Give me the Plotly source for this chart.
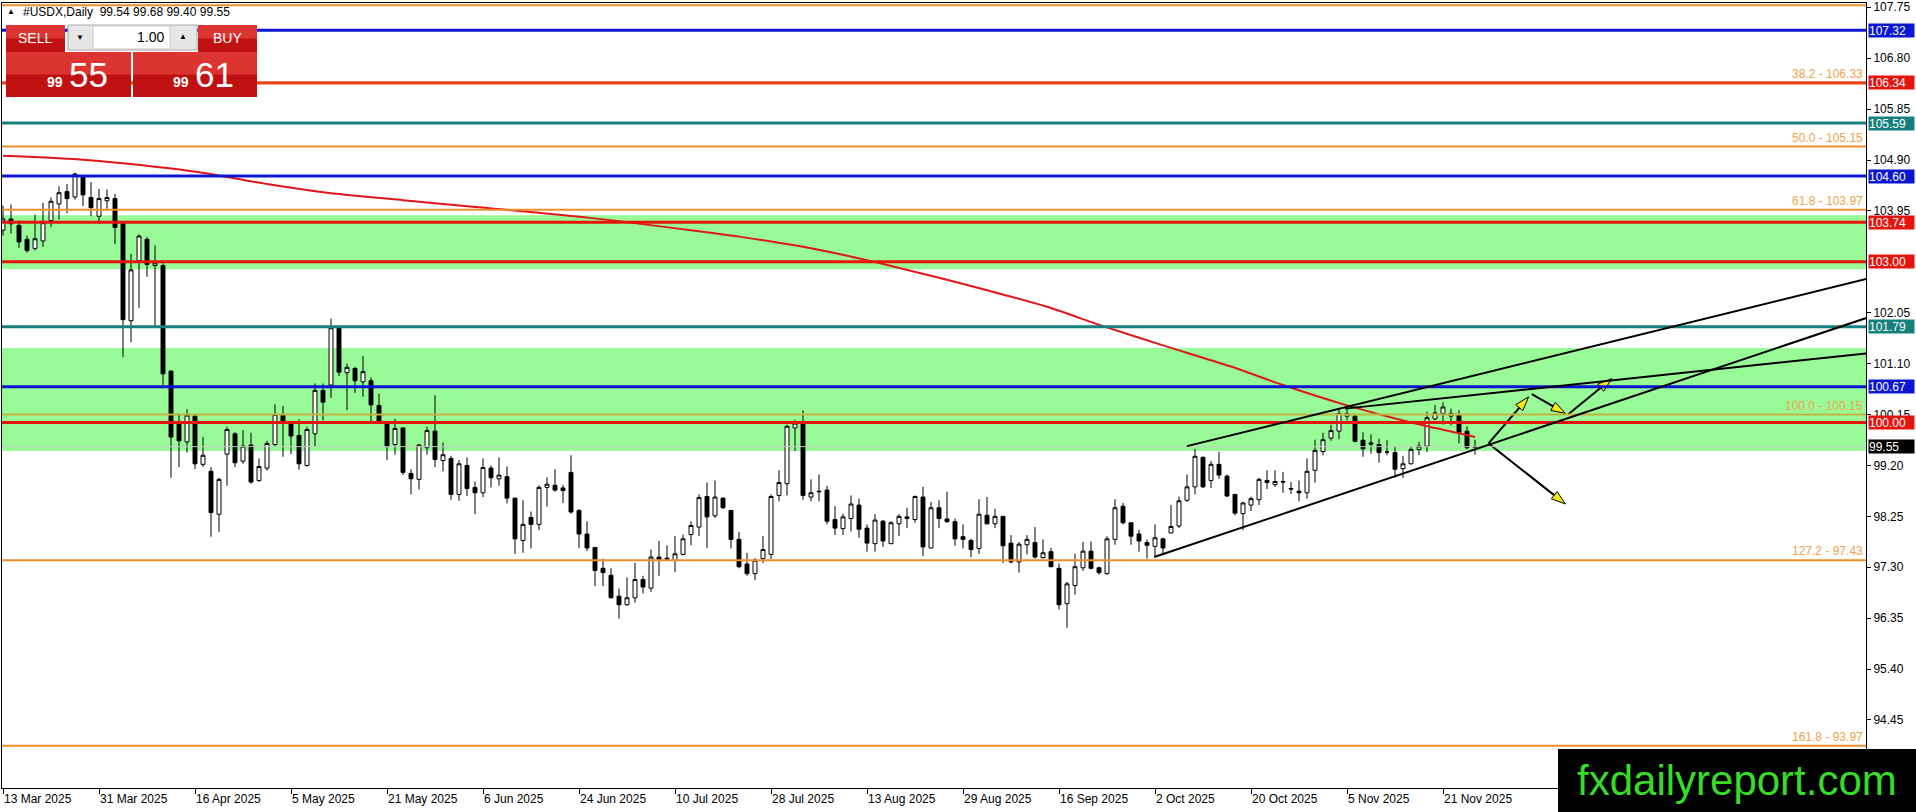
import plotly.graph_objects as go

# ---- values ----
tick_labels = ["13 Mar 2025", "31 Mar 2025", "16 Apr 2025", "5 May 2025", "21 May 2025",
               "6 Jun 2025", "24 Jun 2025", "10 Jul 2025", "28 Jul 2025", "13 Aug 2025",
               "29 Aug 2025", "16 Sep 2025", "2 Oct 2025", "20 Oct 2025", "5 Nov 2025",
               "21 Nov 2025"]
bars_per_label = 12

bar_open = [
    103.59, 103.80, 103.68, 103.42, 103.25, 103.39, 103.77, 104.08, 104.31, 104.21,
    104.58, 104.20, 103.85, 104.14, 104.18, 103.71, 101.90, 103.02, 103.42, 102.93,
    102.93, 100.96, 99.99, 99.64, 100.12, 99.22, 99.09, 98.29, 99.41, 99.79,
    99.28, 99.58, 98.92, 99.15, 99.59, 100.14, 99.98, 99.76, 99.20, 99.79,
    100.60, 100.70, 101.77, 100.93, 101.01, 100.76, 100.78, 100.32, 99.98, 99.59,
    99.90, 99.05, 98.94, 99.53, 99.84, 99.29, 99.33, 98.66, 99.20, 98.79,
    98.69, 99.15, 98.95, 98.99, 98.59, 97.80, 98.23, 98.10, 98.79, 98.83,
    98.78, 99.07, 98.36, 97.92, 97.67, 97.28, 97.15, 96.76, 96.60, 96.73,
    97.07, 96.91, 97.49, 97.47, 97.43, 97.54, 97.91, 98.05, 98.62, 98.26,
    98.59, 98.36, 97.82, 97.36, 97.18, 97.46, 97.54, 98.64, 98.86, 99.90,
    99.98, 98.61, 98.72, 98.74, 98.19, 98.02, 98.21, 98.46, 98.03, 97.74,
    98.16, 97.74, 98.11, 98.24, 98.19, 98.61, 97.66, 98.41, 98.20, 98.15,
    97.87, 97.80, 97.65, 98.27, 98.11, 98.25, 97.75, 97.40, 97.72, 97.76,
    97.48, 97.59, 97.28, 96.62, 96.96, 97.29, 97.60, 97.29, 97.18, 97.82,
    98.44, 98.13, 97.92, 97.76, 97.69, 97.83, 97.94, 98.07, 98.55, 98.80,
    99.35, 98.92, 99.22, 99.00, 98.66, 98.30, 98.46, 98.56, 98.92, 98.84,
    98.90, 98.77, 98.72, 98.69, 99.11, 99.46, 99.71, 99.84, 100.12, 100.12,
    99.67, 99.62, 99.59, 99.45, 99.44, 99.14, 99.23, 99.50, 99.56, 100.07,
    100.17, 100.12, 100.14, 99.84, 99.54,
]
bar_high = [
    104.05, 104.07, 103.77, 103.49, 103.88, 104.10, 104.20, 104.41, 104.45, 104.66,
    104.61, 104.49, 104.36, 104.35, 104.27, 103.74, 103.15, 103.51, 103.46, 103.31,
    102.97, 100.98, 100.14, 100.25, 100.15, 99.73, 99.17, 98.97, 99.92, 99.82,
    99.86, 99.81, 99.33, 99.66, 100.34, 100.31, 99.98, 100.06, 99.92, 100.73,
    100.73, 101.94, 101.77, 101.10, 101.04, 101.24, 100.84, 100.54, 100.01, 100.07,
    99.91, 99.13, 99.60, 99.92, 100.51, 99.63, 99.38, 99.30, 99.35, 98.90,
    99.33, 99.20, 99.35, 99.18, 98.59, 98.55, 98.34, 98.83, 98.98, 99.13,
    98.84, 99.39, 98.38, 98.16, 97.67, 97.46, 97.28, 96.90, 97.11, 97.38,
    97.14, 97.63, 97.79, 97.71, 97.88, 97.91, 98.16, 98.66, 98.88, 98.92,
    98.60, 98.37, 97.96, 97.57, 97.47, 97.88, 98.66, 99.11, 99.96, 100.05,
    100.23, 98.94, 99.03, 98.82, 98.44, 98.30, 98.64, 98.58, 98.10, 98.29,
    98.18, 98.16, 98.29, 98.41, 98.64, 98.80, 98.52, 98.55, 98.71, 98.21,
    98.10, 97.83, 98.57, 98.61, 98.39, 98.25, 97.90, 97.77, 97.90, 98.05,
    97.82, 97.66, 97.37, 97.03, 97.55, 97.77, 97.78, 97.31, 97.88, 98.57,
    98.50, 98.13, 98.00, 97.82, 98.10, 97.85, 98.46, 98.62, 99.03, 99.51,
    99.37, 99.28, 99.45, 99.03, 98.66, 98.52, 98.62, 98.97, 99.11, 99.11,
    99.08, 98.89, 98.92, 99.33, 99.68, 99.81, 99.96, 100.26, 100.32, 100.15,
    99.82, 99.78, 99.70, 99.67, 99.56, 99.38, 99.56, 99.64, 100.20, 100.33,
    100.38, 100.26, 100.23, 99.93, 99.68,
]
bar_low = [
    103.49, 103.53, 103.26, 103.17, 103.21, 103.28, 103.65, 103.79, 103.91, 104.16,
    104.04, 103.85, 103.71, 103.99, 103.33, 101.22, 101.50, 102.14, 102.72, 101.81,
    100.70, 98.97, 99.17, 99.44, 99.13, 99.17, 97.87, 97.96, 98.82, 99.17,
    99.23, 98.86, 98.89, 99.10, 99.56, 99.36, 99.41, 99.12, 99.18, 99.56,
    100.04, 100.46, 100.87, 100.23, 100.55, 100.48, 100.02, 100.01, 99.30, 99.40,
    99.02, 98.66, 98.75, 99.40, 99.17, 99.09, 98.56, 98.54, 98.63, 98.29,
    98.61, 98.79, 98.82, 98.49, 97.55, 97.57, 97.65, 97.99, 98.43, 98.71,
    98.50, 98.30, 97.66, 97.60, 96.95, 96.95, 96.72, 96.34, 96.58, 96.64,
    96.81, 96.84, 97.14, 97.43, 97.21, 97.52, 97.71, 97.88, 97.66, 98.22,
    98.39, 97.65, 97.28, 97.14, 97.06, 97.38, 97.45, 98.53, 98.64, 99.47,
    98.56, 98.53, 98.53, 98.10, 97.90, 97.90, 97.97, 97.85, 97.59, 97.59,
    97.68, 97.73, 97.88, 98.03, 98.13, 97.51, 97.65, 98.03, 98.13, 97.70,
    97.65, 97.49, 97.55, 98.10, 98.03, 97.38, 97.37, 97.20, 97.54, 97.46,
    97.46, 97.30, 96.51, 96.17, 96.79, 97.23, 97.26, 97.16, 97.16, 97.72,
    98.10, 97.72, 97.59, 97.46, 97.49, 97.55, 97.93, 98.03, 98.52, 98.66,
    98.78, 98.78, 98.95, 98.61, 98.27, 97.99, 98.35, 98.46, 98.76, 98.80,
    98.69, 98.67, 98.53, 98.58, 98.88, 99.39, 99.66, 99.69, 100.04, 99.63,
    99.36, 99.42, 99.25, 99.39, 98.97, 98.97, 99.22, 99.39, 99.45, 100.04,
    99.96, 99.95, 99.61, 99.50, 99.40,
]
bar_close = [
    103.80, 103.71, 103.37, 103.21, 103.43, 103.73, 104.13, 104.29, 104.18, 104.64,
    104.25, 104.01, 104.18, 104.20, 103.64, 101.92, 102.85, 103.48, 102.95, 102.98,
    100.91, 99.73, 99.66, 100.14, 99.23, 99.39, 98.32, 98.94, 99.87, 99.25,
    99.56, 98.89, 99.18, 99.61, 100.15, 100.01, 99.75, 99.23, 99.87, 100.60,
    100.38, 101.77, 100.94, 101.03, 100.78, 100.95, 100.33, 100.02, 99.56, 99.89,
    99.07, 98.95, 99.58, 99.85, 99.31, 99.40, 98.66, 99.23, 98.77, 98.69,
    99.16, 98.97, 99.02, 98.59, 97.83, 98.10, 98.10, 98.79, 98.85, 98.74,
    98.73, 98.33, 97.92, 97.66, 97.24, 97.20, 96.73, 96.60, 96.73, 97.07,
    96.93, 97.49, 97.44, 97.45, 97.55, 97.83, 98.08, 98.60, 98.24, 98.61,
    98.41, 97.82, 97.31, 97.18, 97.43, 97.63, 98.62, 98.88, 99.93, 99.99,
    98.64, 98.69, 98.71, 98.16, 98.03, 98.24, 98.48, 98.01, 97.75, 98.18,
    97.79, 98.13, 98.25, 98.21, 98.62, 97.68, 98.41, 98.21, 98.15, 97.83,
    97.82, 97.63, 98.29, 98.11, 98.25, 97.70, 97.40, 97.73, 97.82, 97.49,
    97.57, 97.31, 96.60, 96.99, 97.31, 97.60, 97.28, 97.20, 97.83, 98.41,
    98.13, 97.88, 97.79, 97.71, 97.85, 97.66, 98.06, 98.54, 98.80, 99.37,
    98.80, 99.22, 99.02, 98.63, 98.31, 98.50, 98.58, 98.94, 98.88, 98.90,
    98.89, 98.76, 98.69, 99.09, 99.48, 99.68, 99.85, 100.17, 100.17, 99.65,
    99.51, 99.60, 99.44, 99.45, 99.13, 99.23, 99.50, 99.56, 100.09, 100.18,
    100.29, 100.17, 99.82, 99.53, 99.55,
]

# moving average read at a few bars
ma_bar = [0, 9.6, 20.5, 25.5, 33, 40, 50, 59.4, 73.4, 86, 92, 100, 108, 116.5,
          123, 130.5, 137.5, 145, 153.4, 160, 168, 176, 182, 184]
ma_value = [104.98, 104.91, 104.75, 104.65, 104.45, 104.30, 104.15, 104.02, 103.82,
            103.59, 103.47, 103.28, 103.03, 102.72, 102.47, 102.16, 101.80, 101.44,
            101.05, 100.70, 100.32, 100.00, 99.80, 99.73]

level_price = [107.32, 106.34, 105.59, 104.60, 103.74, 103.00, 101.79, 100.67, 100.00]
level_kind = ["blue", "red", "teal", "blue", "red", "red", "teal", "blue", "red"]

fib_pct = ["23.6", "38.2", "50.0", "61.8", "100.0", "127.2", "161.8"]
fib_price = [107.79, 106.33, 105.15, 103.97, 100.15, 97.43, 93.97]

zone_top = [103.87, 101.39]
zone_bottom = [102.86, 99.47]

trend_bar0 = [143.9, 148.0, 167.75]
trend_price0 = [97.49, 99.56, 100.26]
trend_bar1 = [232.9, 232.9, 232.9]
trend_price1 = [101.95, 102.68, 101.29]

arrow_bar0 = [185.7, 191.1, 195.7, 185.7]
arrow_price0 = [99.61, 100.53, 100.16, 99.61]
arrow_bar1 = [190.7, 195.3, 201.1, 195.3]
arrow_price1 = [100.48, 100.17, 100.82, 98.48]

# 103.00 sits fully under its own level box, so it is left out
ytick_vals = [107.75, 106.80, 105.85, 104.90, 103.95, 102.05, 101.10,
              100.15, 99.20, 98.25, 97.30, 96.35, 95.40, 94.45]

symbol = "#USDX,Daily"
last_ohlc = [99.54, 99.68, 99.40, 99.55]
bid, ask = 99.55, 99.61
lot = "1.00"

# ---- styling ----
FONT = "Liberation Sans, Arial, sans-serif"
COLORS = {"blue": "#0a16d2", "red": "#e5140f", "teal": "#15807e"}
FIB_LINE = "#ef8f2c"
FIB_TEXT = "#f0a24e"
ZONE = "#98fb98"

W, H = 1916, 812
ML, MR, MT, MB = 2, 50, 3, 24


def px(x):
    return (x - ML) / (W - ML - MR)


def py(y):
    return (H - MB - y) / (H - MT - MB)


bars = list(range(len(bar_open)))

fig = go.Figure()
fig.add_trace(go.Candlestick(
    x=bars, open=bar_open, high=bar_high, low=bar_low, close=bar_close,
    increasing=dict(fillcolor="white", line=dict(color="black", width=1)),
    decreasing=dict(fillcolor="black", line=dict(color="black", width=1)),
    whiskerwidth=0, showlegend=False,
))
fig.add_trace(go.Scatter(
    x=ma_bar, y=ma_value, mode="lines", showlegend=False, hoverinfo="skip",
    line=dict(color="#e0161b", width=2, shape="spline", smoothing=0.8),
))
for x0, y0, x1, y1 in zip(arrow_bar0, arrow_price0, arrow_bar1, arrow_price1):
    fig.add_trace(go.Scatter(
        x=[x0, x1], y=[y0, y1], mode="lines+markers", showlegend=False, hoverinfo="skip",
        line=dict(color="black", width=2),
        marker=dict(symbol="arrow", size=15, angleref="previous", opacity=[0, 1],
                    color="#f7e814", line=dict(color="black", width=1)),
    ))

shapes = []
for top, bot in zip(zone_top, zone_bottom):
    shapes.append(dict(type="rect", xref="paper", x0=0, x1=1, y0=bot, y1=top,
                       fillcolor=ZONE, line_width=0, layer="below"))
for pct, price in zip(fib_pct, fib_price):
    col = "#c4b23c" if pct == "100.0" else FIB_LINE
    shapes.append(dict(type="line", xref="paper", x0=0, x1=1, y0=price, y1=price,
                       line=dict(color=col, width=2), layer="above"))
shapes.append(dict(type="line", xref="paper", x0=0, x1=1, y0=last_ohlc[3], y1=last_ohlc[3],
                   line=dict(color="#c8c8c8", width=1), layer="above"))
for price, kind in zip(level_price, level_kind):
    col = "#e8461a" if price == 106.34 else COLORS[kind]
    shapes.append(dict(type="line", xref="paper", x0=0, x1=1, y0=price, y1=price,
                       line=dict(color=col, width=3), layer="above"))
for x0, y0, x1, y1 in zip(trend_bar0, trend_price0, trend_bar1, trend_price1):
    shapes.append(dict(type="line", x0=x0, y0=y0, x1=x1, y1=y1,
                       line=dict(color="black", width=2), layer="above"))

# trade panel
RED_TOP, RED_BOT = "#dc3430", "#bf1111"
for x0, y0, x1, y1 in [(6, 25, 65, 52), (6, 52, 131, 97), (198, 25, 257, 52), (133, 52, 257, 97)]:
    shapes.append(dict(type="rect", xref="paper", yref="paper", x0=px(x0), x1=px(x1),
                       y0=py(y1), y1=py(y0), fillcolor=RED_BOT, line_width=0))
    shapes.append(dict(type="rect", xref="paper", yref="paper", x0=px(x0), x1=px(x1),
                       y0=py((y0 + y1) / 2), y1=py(y0), fillcolor=RED_TOP, line_width=0))
shapes.append(dict(type="rect", xref="paper", yref="paper", x0=px(68), x1=px(197),
                   y0=py(50), y1=py(25), fillcolor="#e6e6e6", line=dict(color="#a8a8a8", width=1)))
shapes.append(dict(type="rect", xref="paper", yref="paper", x0=px(93), x1=px(170),
                   y0=py(49), y1=py(26), fillcolor="white", line=dict(color="#c8c8c8", width=1)))
# watermark box
shapes.append(dict(type="rect", xref="paper", yref="paper", x0=px(1558), x1=px(1918),
                   y0=py(813), y1=py(749), fillcolor="black", line_width=0))

ann = []


def text_at(x, y, text, size, color, xanchor="center", bold=False):
    ann.append(dict(xref="paper", yref="paper", x=px(x), y=py(y), text=f"<b>{text}</b>" if bold else text,
                    showarrow=False, xanchor=xanchor, yanchor="middle",
                    font=dict(family=FONT, size=size, color=color)))


for price, kind in zip(level_price, level_kind):
    ann.append(dict(xref="paper", x=1, y=price, xanchor="left", yanchor="middle", xshift=2,
                    text=f"{price:.2f}", showarrow=False, bgcolor=COLORS[kind], width=45, height=13,
                    align="left", borderpad=0, font=dict(family=FONT, size=12, color="white")))
ann.append(dict(xref="paper", x=1, y=last_ohlc[3], xanchor="left", yanchor="middle", xshift=2,
                text=f"{last_ohlc[3]:.2f}", showarrow=False, bgcolor="black", width=45, height=13,
                align="left", borderpad=0, font=dict(family=FONT, size=12, color="white")))
for pct, price in zip(fib_pct[1:], fib_price[1:]):
    ann.append(dict(xref="paper", x=1, y=price, xanchor="right", yanchor="bottom", xshift=-1,
                    yshift=0, text=f"{pct} - {price:.2f}", showarrow=False,
                    font=dict(family=FONT, size=12, color=FIB_TEXT)))

text_at(11, 12, "▲", 8, "black")
text_at(21, 12, f"{symbol}  " + " ".join(f"{v:.2f}" for v in last_ohlc), 12, "black", xanchor="left")
text_at(35, 38, "SELL", 14, "white")
text_at(227, 38, "BUY", 14, "white")
text_at(166, 37, lot, 14, "black", xanchor="right")
text_at(80, 38, "▼", 8, "black")
text_at(183, 37, "▲", 8, "black")
big, small = f"{bid:.2f}".split(".")
text_at(55, 82, big, 14, "white", bold=True)
text_at(88, 75, small, 35, "white")
big, small = f"{ask:.2f}".split(".")
text_at(181, 82, big, 14, "white", bold=True)
text_at(214, 75, small, 35, "white")
text_at(1737, 780, "fxdailyreport.com", 42, "#37dc28")

fig.update_layout(
    width=W, height=H,
    margin=dict(l=ML, r=MR, t=MT, b=MB),
    paper_bgcolor="white", plot_bgcolor="white",
    showlegend=False,
    font=dict(family=FONT, size=12, color="black"),
    shapes=shapes, annotations=ann,
    xaxis=dict(
        range=[-0.125, 232.875], rangeslider=dict(visible=False),
        tickvals=[i * bars_per_label for i in range(len(tick_labels))], ticktext=tick_labels,
        ticks="outside", ticklen=5, tickcolor="black", ticklabelposition="outside right",
        showgrid=False, zeroline=False, showline=True, linecolor="black", mirror=True,
        automargin=False, tickfont=dict(size=12),
    ),
    yaxis=dict(
        side="right", range=[93.18, 107.83],
        tickvals=ytick_vals, ticktext=[f"{v:.2f}" for v in ytick_vals],
        ticks="outside", ticklen=4, tickcolor="black",
        showgrid=False, zeroline=False, showline=True, linecolor="black", mirror=True,
        automargin=False, tickfont=dict(size=12),
    ),
)

# the page body has a default 8px margin; drop it so the figure fills the window
fig.write_html(
    "out.html",
    config={"displayModeBar": False},
    post_script="document.body.style.margin='0';document.body.style.overflow='hidden';",
)
